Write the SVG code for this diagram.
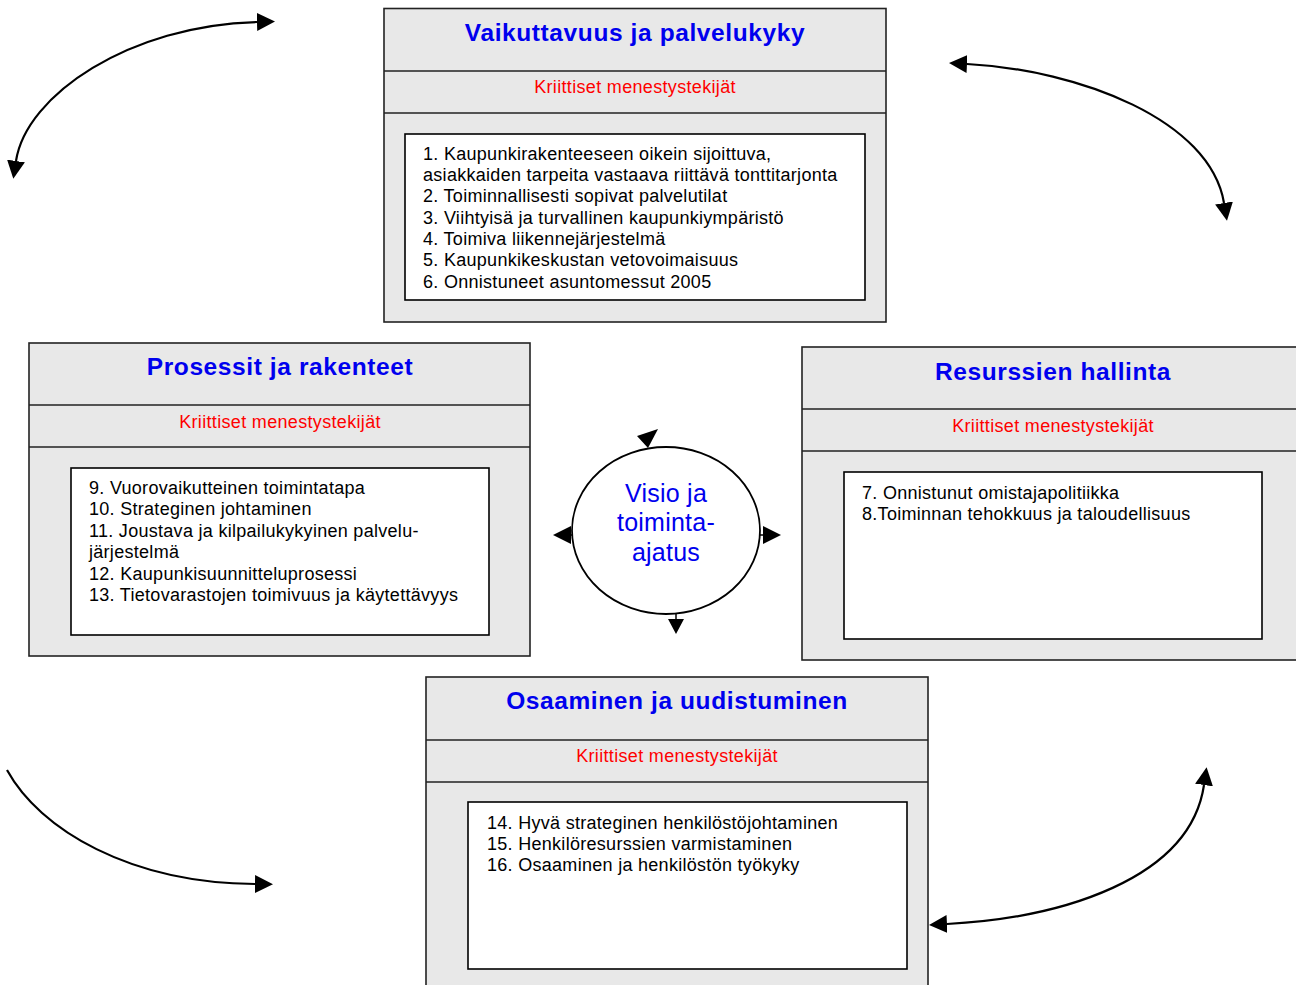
<svg xmlns="http://www.w3.org/2000/svg" width="1296" height="985" viewBox="0 0 1296 985">
<defs>
<style>
.outer{fill:#e8e8e8;stroke:#222;stroke-width:1.6}
.sep{stroke:#222;stroke-width:1.6}
.inner{fill:#fff;stroke:#000;stroke-width:1.6}
.title{font-family:"Liberation Sans",Arial,sans-serif;font-weight:bold;font-size:24.5px;letter-spacing:0.6px;fill:#0000ee;text-anchor:middle}
.sub{font-family:"Liberation Sans",Arial,sans-serif;font-size:18px;letter-spacing:0.33px;fill:#ff0000;text-anchor:middle}
.body{font-family:"Liberation Sans",Arial,sans-serif;font-size:18px;letter-spacing:0.29px;fill:#000}
.vis{font-family:"Liberation Sans",Arial,sans-serif;font-size:25px;letter-spacing:0.25px;fill:#0000ee;text-anchor:middle}
.conn{fill:none;stroke:#000;stroke-width:2.2}
.head{fill:#000;stroke:none}
</style>
<marker id="ah" viewBox="0 0 18 18" markerWidth="18" markerHeight="18" refX="0" refY="9" orient="auto-start-reverse" markerUnits="userSpaceOnUse">
<path d="M0,0 L18,9 L0,18 z" fill="#000"/>
</marker>
</defs>
<rect width="1296" height="985" fill="#fff"/>

<g id="node-vaikuttavuus">
<rect class="outer" x="384" y="8.5" width="502" height="313.5"/>
<line class="sep" x1="384" y1="71" x2="886" y2="71"/>
<line class="sep" x1="384" y1="113" x2="886" y2="113"/>
<rect class="inner" x="405" y="134" width="460" height="166"/>
<text class="title" x="635" y="41">Vaikuttavuus ja palvelukyky</text>
<text class="sub" x="635" y="93">Kriittiset menestystekijät</text>
<text class="body" x="423" y="160">1. Kaupunkirakenteeseen oikein sijoittuva,</text>
<text class="body" x="423" y="181">asiakkaiden tarpeita vastaava riittävä tonttitarjonta</text>
<text class="body" x="423" y="202">2. Toiminnallisesti sopivat palvelutilat</text>
<text class="body" x="423" y="224">3. Viihtyisä ja turvallinen kaupunkiympäristö</text>
<text class="body" x="423" y="245">4. Toimiva liikennejärjestelmä</text>
<text class="body" x="423" y="266">5. Kaupunkikeskustan vetovoimaisuus</text>
<text class="body" x="423" y="288">6. Onnistuneet asuntomessut 2005</text>
</g>

<g id="node-prosessit">
<rect class="outer" x="29" y="343" width="501" height="313"/>
<line class="sep" x1="29" y1="405" x2="530" y2="405"/>
<line class="sep" x1="29" y1="447" x2="530" y2="447"/>
<rect class="inner" x="71" y="468" width="418" height="167"/>
<text class="title" x="280" y="375">Prosessit ja rakenteet</text>
<text class="sub" x="280" y="428">Kriittiset menestystekijät</text>
<text class="body" x="89" y="494">9. Vuorovaikutteinen toimintatapa</text>
<text class="body" x="89" y="515">10. Strateginen johtaminen</text>
<text class="body" x="89" y="537">11. Joustava ja kilpailukykyinen palvelu-</text>
<text class="body" x="89" y="558">järjestelmä</text>
<text class="body" x="89" y="580">12. Kaupunkisuunnitteluprosessi</text>
<text class="body" x="89" y="601">13. Tietovarastojen toimivuus ja käytettävyys</text>
</g>

<g id="node-resurssit">
<rect class="outer" x="802" y="347" width="510" height="313"/>
<line class="sep" x1="802" y1="409" x2="1312" y2="409"/>
<line class="sep" x1="802" y1="451" x2="1312" y2="451"/>
<rect class="inner" x="844" y="472" width="418" height="167"/>
<text class="title" x="1053" y="380">Resurssien hallinta</text>
<text class="sub" x="1053" y="432">Kriittiset menestystekijät</text>
<text class="body" x="862" y="499">7. Onnistunut omistajapolitiikka</text>
<text class="body" x="862" y="520">8.Toiminnan tehokkuus ja taloudellisuus</text>
</g>

<g id="node-osaaminen">
<rect class="outer" x="426" y="677" width="502" height="320"/>
<line class="sep" x1="426" y1="740" x2="928" y2="740"/>
<line class="sep" x1="426" y1="782" x2="928" y2="782"/>
<rect class="inner" x="468" y="802" width="439" height="167"/>
<text class="title" x="677" y="709">Osaaminen ja uudistuminen</text>
<text class="sub" x="677" y="762">Kriittiset menestystekijät</text>
<text class="body" x="487" y="829">14. Hyvä strateginen henkilöstöjohtaminen</text>
<text class="body" x="487" y="850">15. Henkilöresurssien varmistaminen</text>
<text class="body" x="487" y="871">16. Osaaminen ja henkilöstön työkyky</text>
</g>

<g id="node-visio">
<ellipse cx="666" cy="530.5" rx="94" ry="83.5" fill="#fff" stroke="#000" stroke-width="1.8"/>
<text class="vis" x="666" y="502">Visio ja</text>
<text class="vis" x="666" y="531">toiminta-</text>
<text class="vis" x="666" y="561">ajatus</text>
</g>

<g id="connectors">
<path class="conn" d="M 16,161 C 26,95 130,25 257,22" marker-start="url(#ah)" marker-end="url(#ah)"/>
<path class="conn" d="M 967,64 C 1080,70 1210,120 1224,203" marker-start="url(#ah)" marker-end="url(#ah)"/>
<path class="conn" d="M 7,770 C 40,830 130,883 255,884" marker-end="url(#ah)"/>
<path class="conn" d="M 947,924 C 1060,918 1190,880 1204,785" marker-start="url(#ah)" marker-end="url(#ah)"/>
<line x1="570" y1="535" x2="573" y2="535" stroke="#000" stroke-width="1.5"/>
<polygon class="head" points="553,535 571,526 571,544"/>
<line x1="760" y1="535" x2="764" y2="535" stroke="#000" stroke-width="1.5"/>
<polygon class="head" points="781,535 763,526 763,544"/>
<line x1="676" y1="614" x2="676" y2="620" stroke="#000" stroke-width="1.5"/>
<polygon class="head" points="676,634 668,619 684,619"/>
<polygon class="head" points="648,448 637,436 658,429"/>
</g>
</svg>
